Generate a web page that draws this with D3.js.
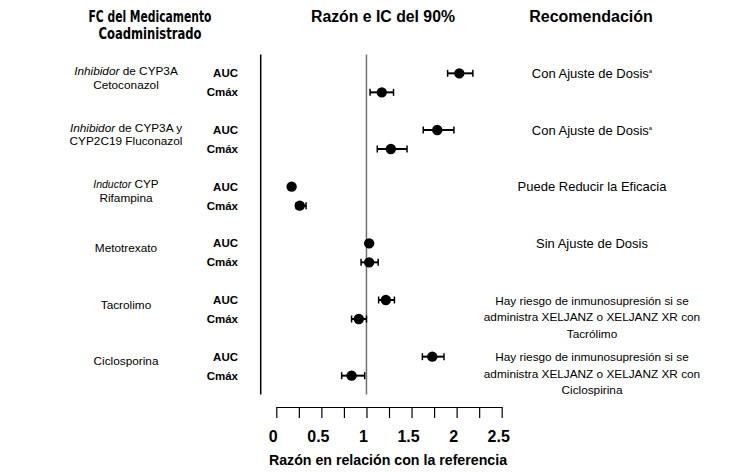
<!DOCTYPE html>
<html>
<head>
<meta charset="utf-8">
<script src="https://cdn.jsdelivr.net/npm/d3@7"></script>
<style>
  body { margin: 0; background: #fff; }
  svg { font-family: "Liberation Sans", Arial, sans-serif; }
</style>
</head>
<body>
<div id="chart"></div>
<script>
// data
const groups = ['Cetoconazol', 'Fluconazol', 'Rifampina', 'Metotrexato', 'Tacrolimo', 'Ciclosporina'];
const metrics = ['AUC', 'Cmáx'];
// [AUC, Cmax] per group
const ratio = [[2.03, 1.17], [1.785, 1.27], [0.17, 0.26], [1.03, 1.03], [1.215, 0.915], [1.73, 0.835]];
const lower = [[1.90, 1.04], [1.63, 1.12], [0.16, 0.22], [1.00, 0.94], [1.135, 0.835], [1.62, 0.725]];
const upper = [[2.18, 1.30], [1.97, 1.45], [0.18, 0.33], [1.05, 1.13], [1.31, 1.00], [1.86, 0.98]];

// left column labels, italic part first
const groupLabels = [
  [[['Inhibidor', true], [' de CYP3A', false]], [['Cetoconazol', false]]],
  [[['Inhibidor', true], [' de CYP3A y', false]], [['CYP2C19 Fluconazol', false]]],
  [[['Inductor', true], [' CYP', false]], [['Rifampina', false]]],
  [[['Metotrexato', false]]],
  [[['Tacrolimo', false]]],
  [[['Ciclosporina', false]]]
];
const recommendations = [
  ['Con Ajuste de Dosis'],
  ['Con Ajuste de Dosis'],
  ['Puede Reducir la Eficacia'],
  ['Sin Ajuste de Dosis'],
  ['Hay riesgo de inmunosupresión si se', 'administra XELJANZ o XELJANZ XR con', 'Tacrólimo'],
  ['Hay riesgo de inmunosupresión si se', 'administra XELJANZ o XELJANZ XR con', 'Ciclospirina']
];
const footnoted = [true, true, false, false, false, false];
const tickValues = d3.range(0, 2.51, 0.25);

const width = 733, height = 473;

const svg = d3.select('#chart').append('svg')
  .attr('width', width)
  .attr('height', height);

const x = d3.scaleLinear().domain([0, 2.5]).range([276.3, 501.7]);
const y = d3.scaleBand().domain(groups).range([54.5, 394.5]);
const ym = d3.scalePoint().domain(metrics).range([-9.5, 9.5]);
const rowY = (g, m) => y(groups[g]) + y.bandwidth() / 2 + ym(metrics[m]);

// headers
svg.append('text')
  .attr('x', 150).attr('y', 22)
  .attr('text-anchor', 'middle')
  .style('font-family', '"Liberation Sans Narrow", "DejaVu Sans Condensed", sans-serif')
  .style('font-weight', 'bold').style('font-size', '15px')
  .attr('textLength', 123).attr('lengthAdjust', 'spacingAndGlyphs')
  .text('FC del Medicamento');
svg.append('text')
  .attr('x', 150).attr('y', 39)
  .attr('text-anchor', 'middle')
  .style('font-family', '"Liberation Sans Narrow", "DejaVu Sans Condensed", sans-serif')
  .style('font-weight', 'bold').style('font-size', '15px')
  .attr('textLength', 103).attr('lengthAdjust', 'spacingAndGlyphs')
  .text('Coadministrado');
svg.append('text')
  .attr('x', 383).attr('y', 22)
  .attr('text-anchor', 'middle')
  .style('font-weight', 'bold').style('font-size', '15.8px')
  .text('Razón e IC del 90%');
svg.append('text')
  .attr('x', 591).attr('y', 22)
  .attr('text-anchor', 'middle')
  .style('font-weight', 'bold').style('font-size', '16px')
  .text('Recomendación');

// vertical lines: divider and reference at ratio 1
svg.append('line')
  .attr('x1', 260.7).attr('x2', 260.7)
  .attr('y1', y.range()[0]).attr('y2', y.range()[1])
  .attr('stroke', '#000').attr('stroke-width', 1.5);
svg.append('line')
  .attr('x1', x(1)).attr('x2', x(1))
  .attr('y1', y.range()[0]).attr('y2', y.range()[1])
  .attr('stroke', '#707070').attr('stroke-width', 1.5);

// group labels
groups.forEach((g, i) => {
  const lines = groupLabels[i];
  const mid = y(g) + y.bandwidth() / 2 - 5;
  const lh = 13.5;
  lines.forEach((parts, j) => {
    const t = svg.append('text')
      .attr('x', 126)
      .attr('y', mid + (j - (lines.length - 1) / 2) * lh + 4)
      .attr('text-anchor', 'middle')
      .style('font-size', '11.8px');
    parts.forEach(([s, it]) => {
      t.append('tspan')
        .style('font-style', it ? 'italic' : 'normal')
        .style('font-size', it && s === 'Inductor' ? '10.5px' : null)
        .text(s);
    });
  });

  // metric labels
  metrics.forEach((m, k) => {
    svg.append('text')
      .attr('x', 238)
      .attr('y', rowY(i, k) + 4)
      .attr('text-anchor', 'end')
      .style('font-weight', 'bold').style('font-size', '11.5px')
      .text(m);
  });

  // recommendation
  recommendations[i].forEach((s, j) => {
    const t = svg.append('text')
      .attr('x', 592)
      .attr('y', rowY(i, 0) + 4.5 + j * 16.5)
      .attr('text-anchor', 'middle')
      .style('font-size', recommendations[i].length > 1 ? '11.8px' : '13px')
      .text(s);
    if (footnoted[i]) {
      t.append('tspan')
        .attr('dx', 0).attr('dy', -5)
        .style('font-size', '6px')
        .text('a');
    }
  });
});

// error bars and points
const rows = [];
groups.forEach((g, i) => metrics.forEach((m, k) => rows.push({ i, k })));

const marks = svg.append('g');
marks.selectAll('line.ci')
  .data(rows).enter().append('line')
  .attr('class', 'ci')
  .attr('x1', d => x(lower[d.i][d.k])).attr('x2', d => x(upper[d.i][d.k]))
  .attr('y1', d => rowY(d.i, d.k)).attr('y2', d => rowY(d.i, d.k))
  .attr('stroke', '#000').attr('stroke-width', 2);
['lo', 'hi'].forEach(side => {
  marks.selectAll('line.cap-' + side)
    .data(rows).enter().append('line')
    .attr('class', 'cap-' + side)
    .attr('x1', d => x(side === 'lo' ? lower[d.i][d.k] : upper[d.i][d.k]))
    .attr('x2', d => x(side === 'lo' ? lower[d.i][d.k] : upper[d.i][d.k]))
    .attr('y1', d => rowY(d.i, d.k) - 3.5).attr('y2', d => rowY(d.i, d.k) + 3.5)
    .attr('stroke', '#000').attr('stroke-width', 1.5);
});
marks.selectAll('circle')
  .data(rows).enter().append('circle')
  .attr('cx', d => x(ratio[d.i][d.k]))
  .attr('cy', d => rowY(d.i, d.k))
  .attr('r', 5.2)
  .attr('fill', '#000');

// x axis
const axis = svg.append('g')
  .attr('transform', 'translate(0,407)')
  .call(d3.axisBottom(x)
    .tickValues(tickValues)
    .tickSize(11)
    .tickSizeOuter(0)
    .tickFormat(d => (Math.round(d * 100) % 50 === 0 ? d3.format('~g')(d) : '')));
axis.select('.domain').attr('stroke', '#000').attr('stroke-width', 1.2);
axis.selectAll('.tick line').attr('stroke', '#000').attr('stroke-width', 1.2);
axis.selectAll('.tick text')
  .attr('y', 35).attr('dy', 0).attr('dx', -3.5)
  .attr('fill', '#000')
  .style('font-family', '"Liberation Sans", Arial, sans-serif')
  .style('font-weight', 'bold').style('font-size', '16px');

svg.append('text')
  .attr('x', 388).attr('y', 465)
  .attr('text-anchor', 'middle')
  .style('font-weight', 'bold').style('font-size', '14.2px')
  .text('Razón en relación con la referencia');
</script>
</body>
</html>
